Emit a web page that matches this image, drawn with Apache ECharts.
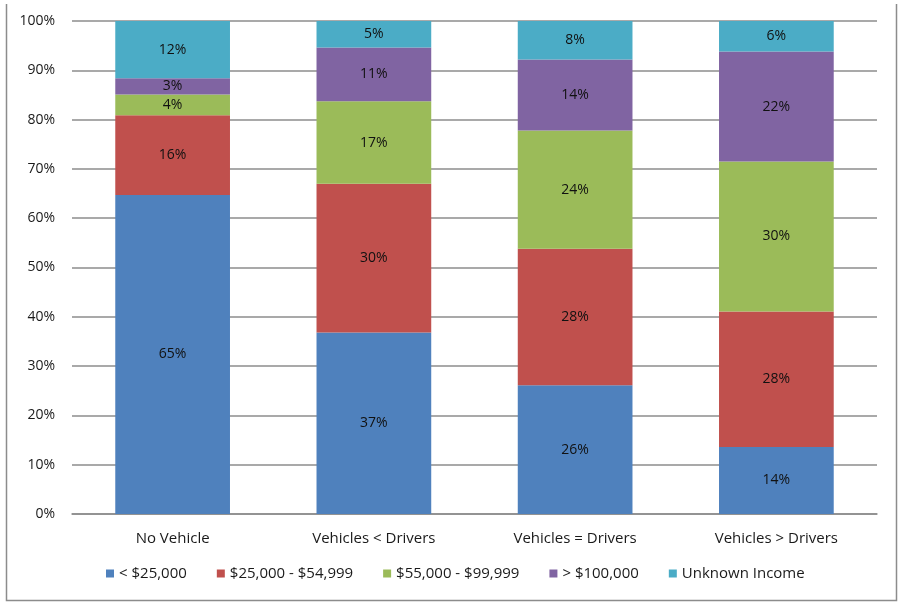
<!DOCTYPE html>
<html>
<head>
<meta charset="utf-8">
<script src="https://cdn.jsdelivr.net/npm/echarts@6/dist/echarts.min.js"></script>
<style>
  html, body { margin: 0; padding: 0; background: #fff; }
  #chart-container { width: 899px; height: 602px; }
</style>
</head>
<body>
<div id="chart-container"></div>
<script>
const chartDom = document.getElementById('chart-container');
const myChart = echarts.init(chartDom);

// household vehicle availability groups
const categories = ['No Vehicle', 'Vehicles < Drivers', 'Vehicles = Drivers', 'Vehicles > Drivers'];

// share of households per income band (%)
const under25k = [64.7, 36.8, 26.1, 13.6];
const from25to55k = [16.2, 30.2, 27.7, 27.5];
const from55to100k = [4.2, 16.7, 24.0, 30.4];
const over100k = [3.3, 10.9, 14.4, 22.3];
const unknownIncome = [11.6, 5.4, 7.8, 6.2];

const seriesNames = ['< $25,000', '$25,000 - $54,999', '$55,000 - $99,999', '> $100,000', 'Unknown Income'];
const seriesData = [under25k, from25to55k, from55to100k, over100k, unknownIncome];
const seriesColors = ['#4F81BD', '#C0504D', '#9BBB59', '#8064A2', '#4BACC6'];

const fontFamily = '"Open Sans", "Noto Sans", sans-serif';

const series = seriesNames.map((name, i) => ({
    name: name,
    type: 'bar',
    stack: 'total',
    barWidth: '57%',
    data: seriesData[i],
    itemStyle: { color: seriesColors[i] },
    label: {
        show: true,
        position: 'inside',
        color: '#111',
        fontSize: 14,
        fontFamily: fontFamily,
        formatter: p => Math.round(p.value) + '%'
    }
}));

const option = {
    animation: false,
    grid: {
        left: 72,
        right: 22,
        top: 21,
        bottom: 88
    },
    legend: {
        bottom: 16,
        left: 101,
        itemWidth: 8,
        itemHeight: 8,
        itemGap: 30,
        icon: 'rect',
        textStyle: {
            color: '#1a1a1a',
            fontSize: 15,
            fontFamily: fontFamily
        },
        data: seriesNames
    },
    xAxis: {
        type: 'category',
        data: categories,
        axisLine: { show: true, lineStyle: { color: '#8c8c8c', width: 1.5 } },
        axisTick: { show: false },
        axisLabel: {
            color: '#1a1a1a',
            fontSize: 15,
            fontFamily: fontFamily,
            margin: 17
        }
    },
    yAxis: {
        type: 'value',
        min: 0,
        max: 100,
        interval: 10,
        axisLine: { show: false },
        axisTick: { show: false },
        splitLine: { lineStyle: { color: '#8c8c8c', width: 1.5 } },
        axisLabel: {
            color: '#1a1a1a',
            fontSize: 14,
            fontFamily: fontFamily,
            margin: 17,
            formatter: '{value}%'
        }
    },
    graphic: {
        elements: [
            {
                type: 'polyline',
                shape: { points: [[6.5, 4], [6.5, 600.5], [896.5, 600.5], [896.5, 4]] },
                style: { stroke: '#8c8c8c', lineWidth: 1.5, fill: null }
            }
        ]
    },
    series: series
};

myChart.setOption(option);
window.addEventListener('resize', () => myChart.resize());
</script>
</body>
</html>
